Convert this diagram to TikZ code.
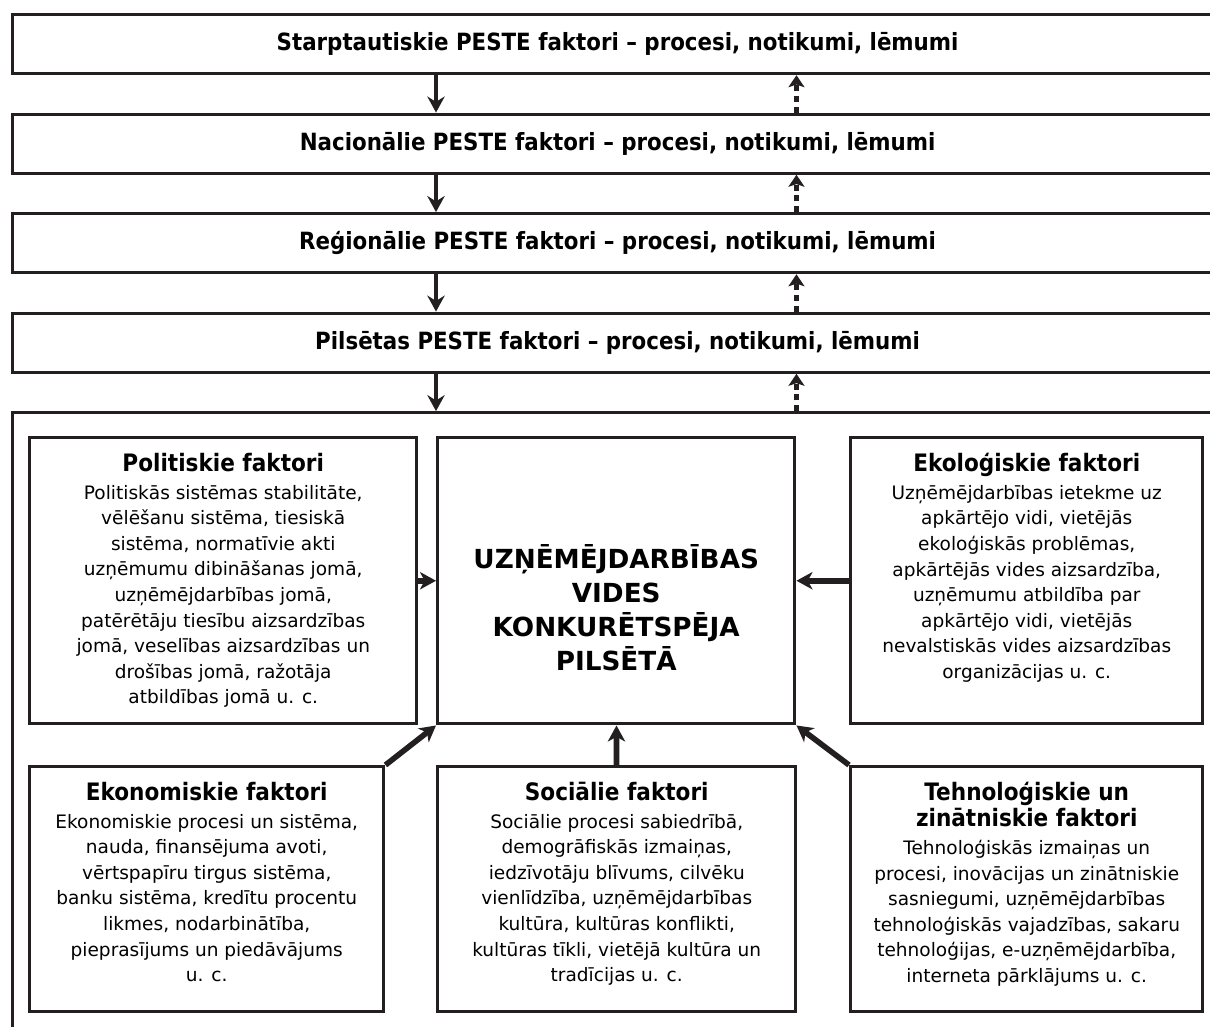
\documentclass[tikz,border=0pt]{standalone}
\usepackage{fontspec}
\setmainfont[FakeStretch=0.9]{DejaVu Sans}
\newfontfamily\widefam{DejaVu Sans}
\usetikzlibrary{arrows.meta,positioning}
\definecolor{ink}{RGB}{35,31,32}
\newcommand\lvlfont{\fontsize{17.8}{20}\selectfont\bfseries}
\newcommand\fhead{\rmfamily\fontsize{18}{20}\selectfont\bfseries}
\newcommand\fbody{\widefam\fontsize{13.9}{19.2}\selectfont}
\newcommand\cfont{\widefam\fontsize{19.7}{25.5}\selectfont\bfseries}
\tikzstyle{levelbox}=[rectangle,draw=ink,line width=2.4pt,minimum width=907.5pt,
minimum height=44.25pt,font=\lvlfont,anchor=north west]
\tikzstyle{framebox}=[rectangle,draw=ink,line width=2.4pt,minimum width=907.5pt,
minimum height=525pt]
\tikzstyle{factbox}=[rectangle,draw=ink,line width=2.6pt,anchor=north west]
\tikzstyle{facttext}=[align=center,inner sep=0pt,font=\fbody,text=black]
\tikzstyle{flowarrow}=[color=ink,line width=3pt,-{Stealth[length=12pt,width=13pt,inset=4pt]}]
\tikzstyle{backarrow}=[color=ink,line width=4pt,dash pattern=on 4.5pt off 3.5pt,
-{Stealth[length=9pt,width=12pt,inset=2pt]}]
\tikzstyle{factarrow}=[color=ink,line width=4.2pt,-{Stealth[length=12pt,width=13pt,inset=3.5pt]}]
\begin{document}
\begin{tikzpicture}[x=0.75pt,y=0.75pt,node distance=28pt]
            \clip (0,0) rectangle (1210,-1026);

            % PESTE LEVELS

            \node[levelbox] (star) at (11,-13) {Starptautiskie PESTE faktori -- procesi, notikumi, lēmumi};
            \node[levelbox,below=of star] (nac) {Nacionālie PESTE faktori -- procesi, notikumi, lēmumi};
            \node[levelbox,below=of nac] (reg) {Reģionālie PESTE faktori -- procesi, notikumi, lēmumi};
            \node[levelbox,below=of reg] (pils) {Pilsētas PESTE faktori -- procesi, notikumi, lēmumi};
            \node[framebox,below=of pils] (vide) {};

            % FACTOR BOXES

            \node[factbox,minimum width=290.25pt,minimum height=214.5pt] (pol) at (28,-436) {};
            \node[factbox,minimum width=267.75pt,minimum height=214.5pt] (cen) at (436,-436) {};
            \node[factbox,minimum width=264pt,minimum height=214.5pt] (eko) at (849,-436) {};
            \node[factbox,minimum width=265.5pt,minimum height=183.75pt] (ekon) at (28,-765) {};
            \node[factbox,minimum width=268.5pt,minimum height=183.75pt] (soc) at (436,-765) {};
            \node[factbox,minimum width=264pt,minimum height=183.75pt] (teh) at (849,-765) {};

            \node[align=center,font=\cfont] (cenlbl) at ([yshift=-20pt]cen.center)
                {UZŅĒMĒJDARBĪBAS\\VIDES\\KONKURĒTSPĒJA\\PILSĒTĀ};

            \node[facttext,below=12.75pt of pol.north] (poltxt) {{\fhead Politiskie faktori}\\[1.5pt]
                Politiskās sistēmas stabilitāte,\\vēlēšanu sistēma, tiesiskā\\sistēma, normatīvie akti\\
                uzņēmumu dibināšanas jomā,\\uzņēmējdarbības jomā,\\patērētāju tiesību aizsardzības\\
                jomā, veselības aizsardzības un\\drošības jomā, ražotāja\\atbildības jomā u. c.};
            \node[facttext,below=12.75pt of eko.north] (ekotxt) {{\fhead Ekoloģiskie faktori}\\[1.5pt]
                Uzņēmējdarbības ietekme uz\\apkārtējo vidi, vietējās\\ekoloģiskās problēmas,\\
                apkārtējās vides aizsardzība,\\uzņēmumu atbildība par\\apkārtējo vidi, vietējās\\
                nevalstiskās vides aizsardzības\\organizācijas u. c.};
            \node[facttext,below=12.75pt of ekon.north] (ekontxt) {{\fhead Ekonomiskie faktori}\\[1.5pt]
                Ekonomiskie procesi un sistēma,\\nauda, finansējuma avoti,\\vērtspapīru tirgus sistēma,\\
                banku sistēma, kredītu procentu\\likmes, nodarbinātība,\\pieprasījums un piedāvājums\\u. c.};
            \node[facttext,below=12.75pt of soc.north] (soctxt) {{\fhead Sociālie faktori}\\[1.5pt]
                Sociālie procesi sabiedrībā,\\demogrāfiskās izmaiņas,\\iedzīvotāju blīvums, cilvēku\\
                vienlīdzība, uzņēmējdarbības\\kultūra, kultūras konflikti,\\kultūras tīkli, vietējā kultūra un\\
                tradīcijas u. c.};
            \node[facttext,below=12.75pt of teh.north] (tehtxt) {{\fhead Tehnoloģiskie un}\\[0.5pt]
                {\fhead zinātniskie faktori}\\[1.5pt]
                Tehnoloģiskās izmaiņas un\\procesi, inovācijas un zinātniskie\\sasniegumi, uzņēmējdarbības\\
                tehnoloģiskās vajadzības, sakaru\\tehnoloģijas, e-uzņēmējdarbība,\\interneta pārklājums u. c.};

            % Connections of levels

            \path[flowarrow] (star.south -| cen.west) edge (nac.north -| cen.west);
            \path[flowarrow] (nac.south -| cen.west) edge (reg.north -| cen.west);
            \path[flowarrow] (reg.south -| cen.west) edge (pils.north -| cen.west);
            \path[flowarrow] (pils.south -| cen.west) edge (vide.north -| cen.west);

            \path[backarrow] (nac.north -| cen.east) edge (star.south -| cen.east);
            \path[backarrow] (reg.north -| cen.east) edge (nac.south -| cen.east);
            \path[backarrow] (pils.north -| cen.east) edge (reg.south -| cen.east);
            \path[backarrow] (vide.north -| cen.east) edge (pils.south -| cen.east);

            % Connections of factors

            \path[factarrow] (pol) edge (cen);
            \path[factarrow] (eko) edge (cen);
            \path[factarrow] (soc) edge (cen);
            \path[factarrow] (ekon.north east) edge (cen.south west);
            \path[factarrow] (teh.north west) edge (cen.south east);

        \end{tikzpicture}
\end{document}
